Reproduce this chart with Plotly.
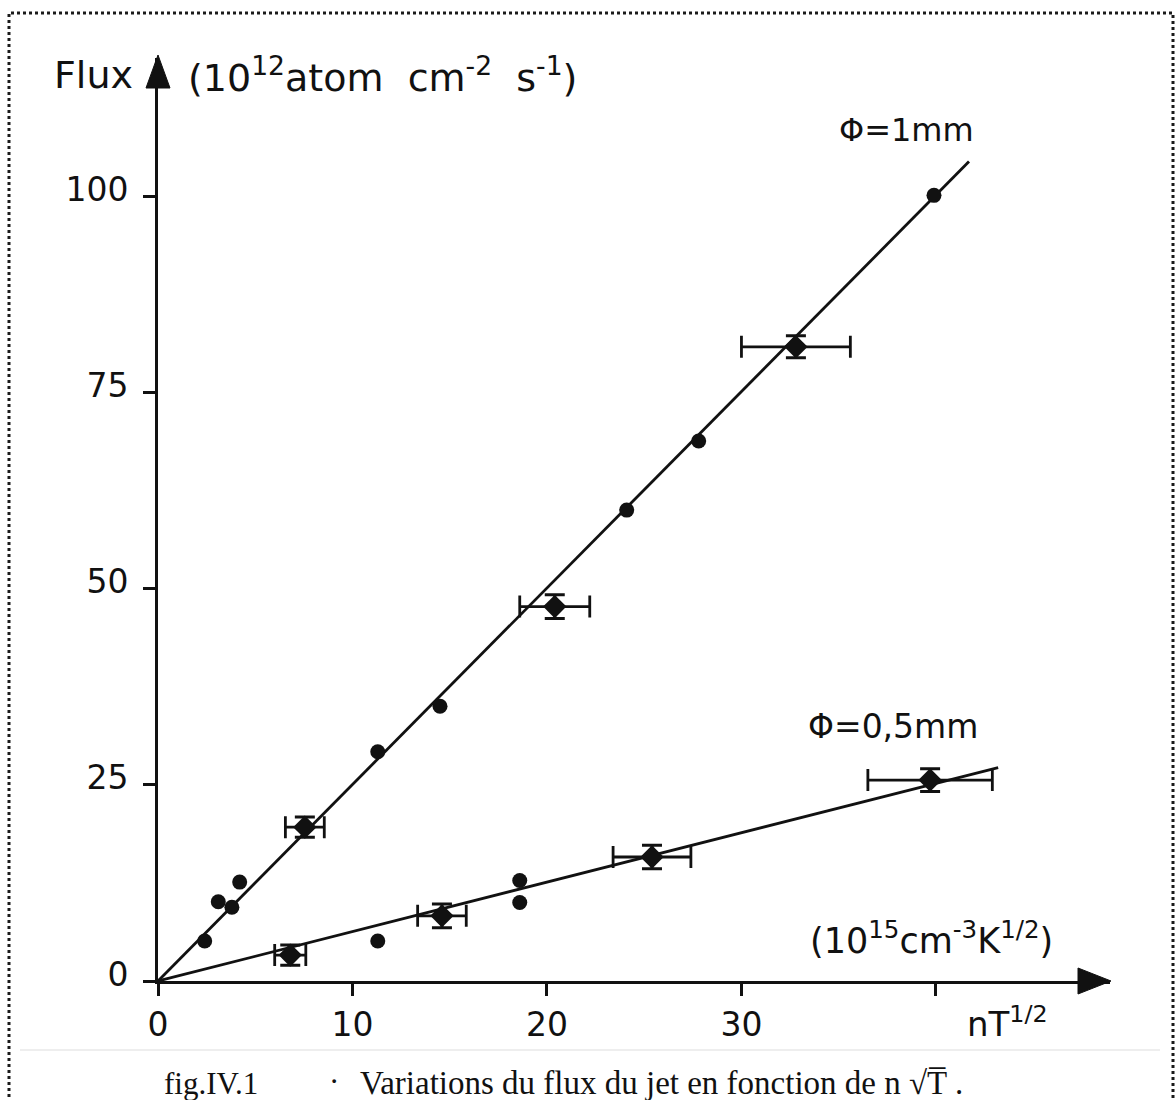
import plotly.graph_objects as go

# ---------------- data ----------------
# phi = 1 mm : plain measurement points
x_1mm_dots = [2.4, 3.1, 3.8, 4.2, 11.3, 14.5, 24.1, 27.8, 39.9]
y_1mm_dots = [5.1, 10.1, 9.4, 12.6, 29.2, 35.0, 60.0, 68.8, 100.1]
# phi = 1 mm : points with error bars
x_1mm_err = [7.55, 20.4, 32.8]
y_1mm_err = [19.6, 47.7, 80.8]
dx_1mm = [1.0, 1.8, 2.8]
dy_1mm = [1.3, 1.5, 1.4]
# phi = 1 mm : fitted line
x_1mm_fit = [0, 41.7]
y_1mm_fit = [0, 104.4]

# phi = 0.5 mm : plain measurement points
x_05_dots = [11.3, 18.6, 18.6]
y_05_dots = [5.1, 12.8, 10.0]
# phi = 0.5 mm : points with error bars
x_05_err = [6.8, 14.6, 25.4, 39.7]
y_05_err = [3.3, 8.3, 15.8, 25.6]
dx_05 = [0.8, 1.25, 2.0, 3.2]
dy_05 = [1.3, 1.5, 1.5, 1.45]
# phi = 0.5 mm : fitted line
x_05_fit = [0, 43.2]
y_05_fit = [0, 27.2]

x_ticks = [0, 10, 20, 30, 40]
x_ticktext = ["0", "10", "20", "30", ""]
y_ticks = [0, 25, 50, 75, 100]
y_ticktext = ["0", "25", "50", "75", "100"]

X_MAX = 48.95
Y_MAX = 117.6

FONT = "DejaVu Sans"
BLACK = "#111111"

# plot area in pixels (for placing decorations outside the axes)
L, R, T, B = 158, 1110, 58, 981


def px(xp):
    return (xp - L) / (R - L)


def py(yp):
    return (B - yp) / (B - T)


fig = go.Figure()

# fitted lines
fig.add_trace(go.Scatter(x=x_1mm_fit, y=y_1mm_fit, mode="lines",
                         line=dict(color=BLACK, width=2.8), hoverinfo="skip"))
fig.add_trace(go.Scatter(x=x_05_fit, y=y_05_fit, mode="lines",
                         line=dict(color=BLACK, width=2.8), hoverinfo="skip"))

# dots
for xs, ys in [(x_1mm_dots, y_1mm_dots), (x_05_dots, y_05_dots)]:
    fig.add_trace(go.Scatter(x=xs, y=ys, mode="markers",
                             marker=dict(symbol="circle", size=15, color=BLACK)))

# points with error bars
for xs, ys, dxs, dys in [(x_1mm_err, y_1mm_err, dx_1mm, dy_1mm),
                         (x_05_err, y_05_err, dx_05, dy_05)]:
    fig.add_trace(go.Scatter(
        x=xs, y=ys, mode="markers",
        marker=dict(symbol="diamond", size=18, color=BLACK),
        error_x=dict(type="data", array=dxs, visible=True, color=BLACK,
                     thickness=2.8, width=11),
        error_y=dict(type="data", array=dys, visible=True, color=BLACK,
                     thickness=3, width=10),
    ))

axis_common = dict(showline=True, linecolor=BLACK, linewidth=2.8,
                   ticks="outside", ticklen=12, tickwidth=2.8, tickcolor=BLACK,
                   showgrid=False, zeroline=False, fixedrange=True,
                   tickfont=dict(family=FONT, size=33, color=BLACK))

fig.update_layout(
    width=1176, height=1100,
    margin=dict(l=L, r=1176 - R, t=T, b=1100 - B),
    paper_bgcolor="white", plot_bgcolor="white",
    showlegend=False,
    xaxis=dict(range=[0, X_MAX], tickvals=x_ticks, ticktext=x_ticktext,
               ticklabelstandoff=0, **axis_common),
    yaxis=dict(range=[0, Y_MAX], tickvals=y_ticks, ticktext=y_ticktext,
               ticklabelstandoff=8, ticklabelshift=-7, **axis_common),
)

# axis arrowheads (pixel-sized shapes anchored at axis ends)
fig.add_shape(type="path", xref="paper", yref="paper", xsizemode="pixel", ysizemode="pixel",
              xanchor=0, yanchor=1, path="M -12,-30 L 12,-30 L 0,3 Z",
              fillcolor=BLACK, line=dict(color=BLACK, width=1))
fig.add_shape(type="path", xref="paper", yref="paper", xsizemode="pixel", ysizemode="pixel",
              xanchor=1, yanchor=0, path="M -32,13 L -32,-13 L 1,0 Z",
              fillcolor=BLACK, line=dict(color=BLACK, width=1))

# frame around the figure
fig.add_shape(type="rect", xref="paper", yref="paper",
              x0=px(9), x1=px(1173), y0=py(1110), y1=py(13),
              line=dict(color="#1a1a1a", width=3, dash="dot"))
# faint separator above caption
fig.add_shape(type="line", xref="paper", yref="paper",
              x0=px(20), x1=px(1160), y0=py(1050), y1=py(1050),
              line=dict(color="#eeeeee", width=2))


def txt(x, y, s, size=32, xanchor="center", family=FONT):
    fig.add_annotation(x=px(x), y=py(y), xref="paper", yref="paper", text=s,
                       showarrow=False, xanchor=xanchor, yanchor="middle",
                       font=dict(family=family, size=size, color=BLACK))


txt(93, 75, "Flux", size=38)
txt(186, 75, "(10<sup>12</sup>atom  cm<sup>-2</sup>  s<sup>-1</sup>)", size=38, xanchor="left")
txt(906, 130, "Φ=1mm", size=32)
txt(893, 726, "Φ=0,5mm", size=33)
txt(931, 938, "(10<sup>15</sup>cm<sup>-3</sup>K<sup>1/2</sup>)", size=35)
txt(1007, 1022, "nT<sup>1/2</sup>", size=34)

# caption
txt(162, 1083, "fig.IV.1", size=31, xanchor="left", family="Liberation Serif")
txt(327, 1081, "·", size=31, xanchor="left", family="Liberation Serif")
txt(358, 1083, "Variations du flux du jet en fonction de n √T\u0305 .", size=33,
    xanchor="left", family="Liberation Serif")

fig.write_html("out.html")
